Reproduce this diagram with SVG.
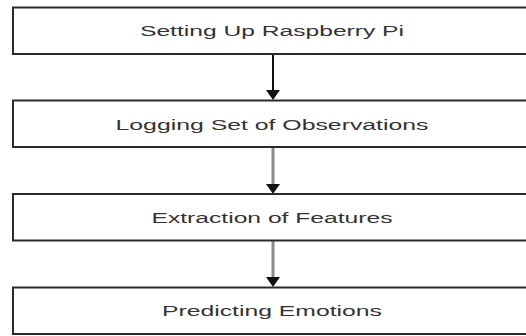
<svg xmlns="http://www.w3.org/2000/svg" width="526" height="336" viewBox="0 0 526 336">
<defs>
<style>
.box{fill:#fff;stroke:#2a2a2a;stroke-width:2}
.lbl{font-family:"Liberation Sans",Arial,sans-serif;font-size:14px;fill:#333;text-anchor:middle}
.c1{stroke:#111;stroke-width:2;fill:none}
.c2{stroke:#8a8a8a;stroke-width:3;fill:none}
.head{fill:#111}
</style>
</defs>
<rect width="526" height="336" fill="#fff"/>
<g id="connectors">
<line class="c1" x1="273" y1="54" x2="273" y2="91"/>
<polygon class="head" points="266,90 280,90 273,100"/>
<line class="c2" x1="273" y1="147" x2="273" y2="185"/>
<polygon class="head" points="266,184 280,184 273,194"/>
<line class="c2" x1="273" y1="241" x2="273" y2="278"/>
<polygon class="head" points="266,277 280,277 273,287"/>
</g>
<g id="n1">
<rect class="box" x="13" y="7.5" width="520" height="46.5"/>
<text class="lbl" x="272" y="35.5" textLength="264" lengthAdjust="spacingAndGlyphs">Setting Up Raspberry Pi</text>
</g>
<g id="n2">
<rect class="box" x="13" y="100.5" width="520" height="46.5"/>
<text class="lbl" x="272" y="129.5" textLength="313" lengthAdjust="spacingAndGlyphs">Logging Set of Observations</text>
</g>
<g id="n3">
<rect class="box" x="13" y="194" width="520" height="46.5"/>
<text class="lbl" x="272" y="222.5" textLength="241" lengthAdjust="spacingAndGlyphs">Extraction of Features</text>
</g>
<g id="n4">
<rect class="box" x="13" y="287.5" width="520" height="46.5"/>
<text class="lbl" x="272" y="316" textLength="220" lengthAdjust="spacingAndGlyphs">Predicting Emotions</text>
</g>
</svg>
